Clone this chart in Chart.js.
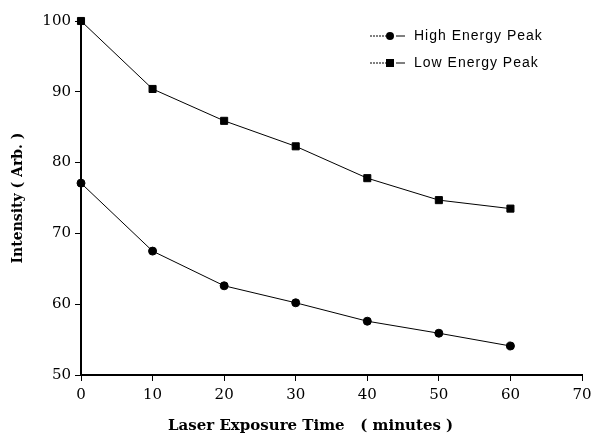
<!DOCTYPE html>
<html>
<head>
<meta charset="utf-8">
<script src="https://cdn.jsdelivr.net/npm/chart.js@4/dist/chart.umd.min.js"></script>
<style>
  html, body { margin: 0; padding: 0; background: #fff; }
  #wrap { width: 593px; height: 435px; }
</style>
</head>
<body>
<div id="wrap"><canvas id="chart" width="593" height="435"></canvas></div>
<script>
const times = [0, 10, 20, 30, 40, 50, 60];
const highEnergy = [77.1, 67.5, 62.6, 60.2, 57.6, 55.9, 54.1];
const lowEnergy = [100, 90.4, 85.9, 82.3, 77.8, 74.7, 73.5];
const xTicks = [0, 10, 20, 30, 40, 50, 60, 70];
const yTicks = [50, 60, 70, 80, 90, 100];

const toPoints = (vals) => vals.map((v, i) => ({ x: times[i], y: v }));

const serif = "'DejaVu Serif', 'Liberation Serif', serif";

// hand drawn legend, line + marker + label like the printed figure
const legendPlugin = {
  id: "paperLegend",
  afterDraw(chart) {
    const ctx = chart.ctx;
    const rows = [
      { label: "High Energy Peak", style: "circle", y: 36 },
      { label: "Low Energy Peak", style: "rect", y: 63 },
    ];
    ctx.save();
    rows.forEach((r) => {
      ctx.strokeStyle = "#000";
      ctx.lineWidth = 1;
      ctx.setLineDash([2, 1]);
      ctx.beginPath();
      ctx.moveTo(370, r.y);
      ctx.lineTo(386, r.y);
      ctx.stroke();
      ctx.setLineDash([]);
      ctx.beginPath();
      ctx.moveTo(396, r.y);
      ctx.lineTo(405, r.y);
      ctx.stroke();
      ctx.fillStyle = "#000";
      if (r.style === "circle") {
        ctx.beginPath();
        ctx.arc(390, r.y, 4, 0, Math.PI * 2);
        ctx.fill();
      } else {
        ctx.fillRect(386, r.y - 4, 8, 8);
      }
      ctx.font = "14px 'Liberation Sans', Arial, sans-serif";
      ctx.letterSpacing = "1px";
      ctx.textBaseline = "middle";
      ctx.fillText(r.label, 414, r.y);
    });
    ctx.restore();
  },
};

const ctx = document.getElementById("chart").getContext("2d");
new Chart(ctx, {
  type: "line",
  data: {
    datasets: [
      {
        label: "High Energy Peak",
        data: toPoints(highEnergy),
        borderColor: "#000",
        backgroundColor: "#000",
        borderWidth: 1,
        pointStyle: "circle",
        pointRadius: 4,
        tension: 0,
        clip: false,
      },
      {
        label: "Low Energy Peak",
        data: toPoints(lowEnergy),
        borderColor: "#000",
        backgroundColor: "#000",
        borderWidth: 1,
        pointStyle: "rect",
        pointRadius: 5,
        tension: 0,
        clip: false,
      },
    ],
  },
  options: {
    responsive: false,
    animation: false,
    layout: { padding: { top: 21, right: 0, left: 10, bottom: 0 } },
    plugins: { legend: { display: false }, tooltip: { enabled: false } },
    scales: {
      x: {
        type: "linear",
        min: 0,
        max: 70,
        afterBuildTicks: (s) => { s.ticks = xTicks.map((v) => ({ value: v })); },
        border: { display: true, color: "#000", width: 2 },
        grid: { display: true, drawOnChartArea: false, drawTicks: true, tickLength: 6, color: "#000", lineWidth: 1 },
        ticks: {
          color: "#000",
          padding: 5,
          maxRotation: 0,
          font: { family: serif, size: 15 },
        },
        title: {
          display: true,
          // trailing spaces pull the centred title a little left, as in the print
          text: "Laser Exposure Time   ( minutes )\u00a0\u00a0\u00a0\u00a0\u00a0\u00a0\u00a0\u00a0",
          color: "#000",
          padding: { top: 12, bottom: 0 },
          font: { family: serif, size: 15, weight: "bold" },
        },
        afterFit: (s) => {
          s.height = 60;
          s.paddingRight = 11;
        },
      },
      y: {
        min: 50,
        max: 100,
        afterBuildTicks: (s) => { s.ticks = yTicks.map((v) => ({ value: v })); },
        border: { display: true, color: "#000", width: 2 },
        grid: { display: true, drawOnChartArea: false, drawTicks: true, tickLength: 6, color: "#000", lineWidth: 1 },
        ticks: {
          color: "#000",
          padding: 4,
          font: { family: serif, size: 15 },
        },
        title: {
          display: true,
          text: "Intensity ( Arb. )",
          color: "#000",
          padding: { top: 0, bottom: 6 },
          font: { family: serif, size: 14, weight: "bold" },
        },
        afterFit: (s) => { s.width = 71; },
      },
    },
  },
  plugins: [legendPlugin],
});
</script>
</body>
</html>
